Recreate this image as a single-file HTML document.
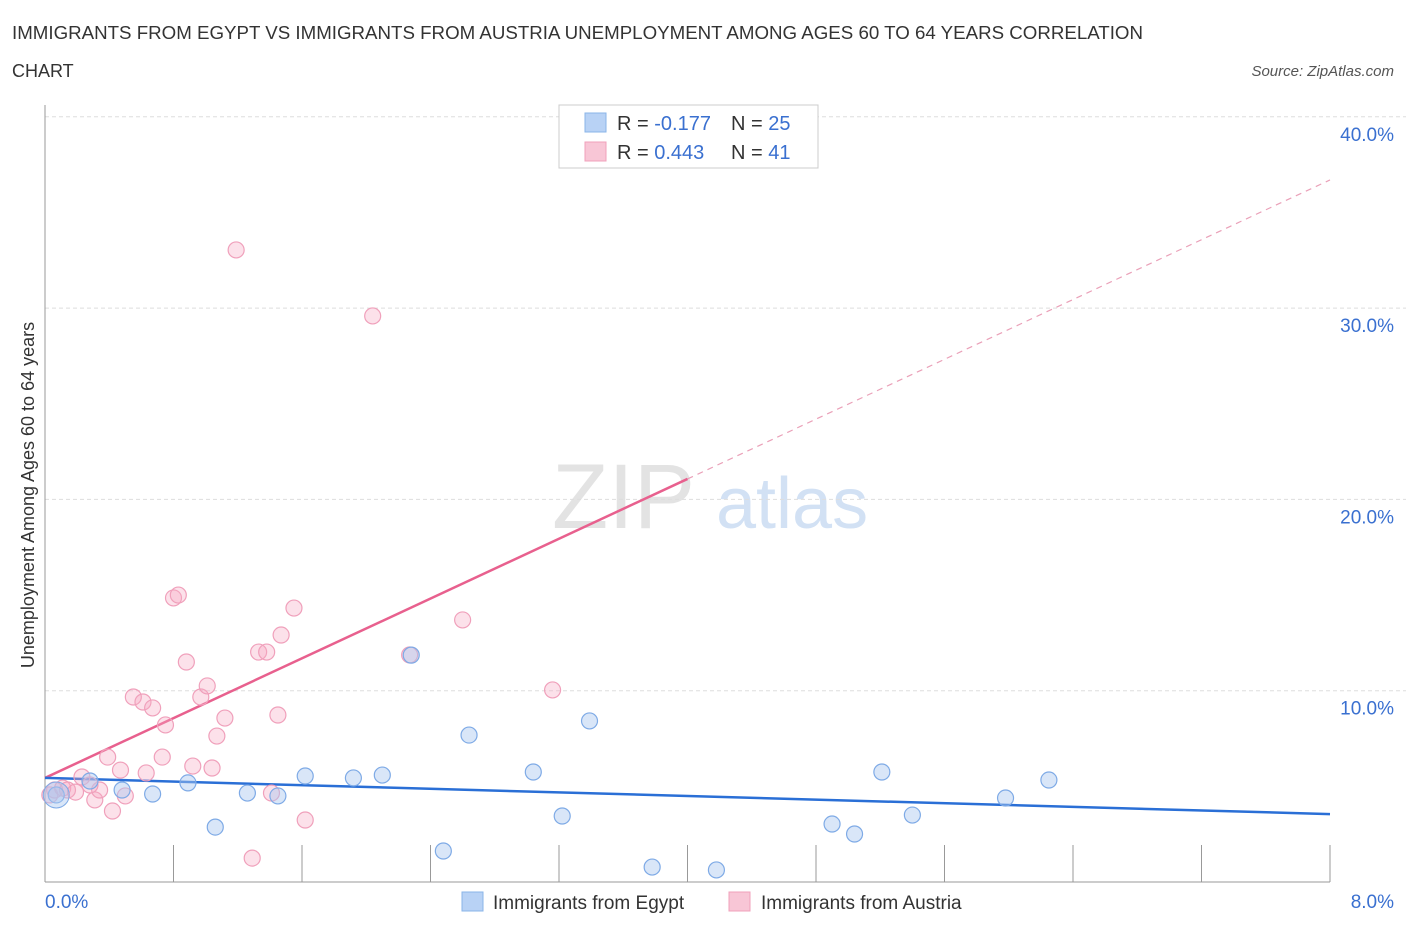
<!DOCTYPE html>
<html><head><meta charset="utf-8"><style>
body{margin:0;background:#fff;font-family:"Liberation Sans",sans-serif;}
svg text{font-family:"Liberation Sans",sans-serif;}
</style></head><body>
<svg id="chart" width="1406" height="930" xmlns="http://www.w3.org/2000/svg">
<text x="12" y="39" font-size="18" fill="#333" textLength="1131" lengthAdjust="spacingAndGlyphs">IMMIGRANTS FROM EGYPT VS IMMIGRANTS FROM AUSTRIA UNEMPLOYMENT AMONG AGES 60 TO 64 YEARS CORRELATION</text>
<text x="12" y="77" font-size="18" fill="#333">CHART</text>
<text x="1394" y="76" font-size="15" fill="#555" text-anchor="end" font-style="italic">Source: ZipAtlas.com</text>
<text x="552" y="528" font-size="92" fill="#ddd" font-family="Liberation Serif" opacity="0.8">ZIP</text>
<text x="716" y="528" font-size="72" fill="#c8daf2" opacity="0.8">atlas</text>
<text transform="translate(34,495) rotate(-90)" font-size="18" fill="#333" text-anchor="middle">Unemployment Among Ages 60 to 64 years</text>
<g id="grid"></g><g id="lines"></g><g id="pts"></g>
<g>
<rect x="559" y="105" width="259" height="63" fill="#fff" stroke="#ccc"/>
<rect x="585" y="113" width="21" height="19" fill="#b8d2f5" stroke="#8ab4e8"/>
<rect x="585" y="142" width="21" height="19" fill="#f8c6d6" stroke="#f0a0bb"/>
<text x="617" y="130" font-size="20" fill="#333">R = <tspan fill="#3a70d0">-0.177</tspan></text>
<text x="731" y="130" font-size="20" fill="#333">N = <tspan fill="#3a70d0">25</tspan></text>
<text x="617" y="159" font-size="20" fill="#333">R = <tspan fill="#3a70d0"> 0.443</tspan></text>
<text x="731" y="159" font-size="20" fill="#333">N = <tspan fill="#3a70d0"> 41</tspan></text>
</g>
<g>
<rect x="462" y="892" width="21" height="19" fill="#b8d2f5" stroke="#8ab4e8"/>
<text x="493" y="909" font-size="19" fill="#333">Immigrants from Egypt</text>
<rect x="729" y="892" width="21" height="19" fill="#f8c6d6" stroke="#f0a0bb"/>
<text x="761" y="909" font-size="19" fill="#333">Immigrants from Austria</text>
</g>
</svg>
<script>
const yTicks=[10,20,30,40];
const xTickLabels=["0.0%","8.0%"];
const egyptX=[0.07,0.28,0.48,0.67,0.89,1.06,1.26,1.45,1.62,1.92,2.10,2.28,2.48,2.64,3.04,3.22,3.39,3.78,4.18,4.90,5.04,5.21,5.40,5.98,6.25];
const egyptY=[4.55,5.28,4.81,4.60,5.18,2.87,4.65,4.50,5.54,5.44,5.59,11.86,1.62,7.68,5.75,3.45,8.42,0.78,0.63,3.03,2.51,5.75,3.50,4.39,5.33];
const austriaX=[0.03,0.06,0.11,0.14,0.19,0.23,0.31,0.34,0.39,0.42,0.47,0.50,0.55,0.61,0.63,0.67,0.73,0.75,0.80,0.83,0.88,0.92,0.97,1.01,1.04,1.07,1.12,1.19,1.29,1.33,1.38,1.41,1.45,1.47,1.55,1.62,2.04,2.27,2.60,3.16,0.28];
const austriaY=[4.55,4.81,4.91,4.81,4.70,5.49,4.29,4.81,6.53,3.71,5.85,4.50,9.67,9.41,5.70,9.10,6.53,8.21,14.85,15.0,11.5,6.06,9.67,10.25,5.96,7.63,8.57,33.04,1.25,12.02,12.02,4.65,8.73,12.91,14.32,3.24,29.59,11.87,13.70,10.04,5.07];
const egyptTrend=[5.44,3.55];
const austriaTrend=[5.44,36.7];
const NS="http://www.w3.org/2000/svg";
const X=v=>45+v/8*1285, Y=v=>882-v*19.13;
function mk(t,a,p){const e=document.createElementNS(NS,t);for(const k in a)e.setAttribute(k,a[k]);p.appendChild(e);return e;}
const g=document.getElementById('grid');
yTicks.forEach(t=>{
 const l=mk('line',{x1:45,x2:1406,y1:Y(t),y2:Y(t),stroke:'#ddd','stroke-dasharray':'4,3'},g);
 
 
 const tx=mk('text',{x:1394,y:Y(t)+24,'font-size':19,fill:'#3a70d0','text-anchor':'end'},g);
 tx.textContent=t.toFixed(1)+'%';
 
 
});
const ax=mk('line',{x1:45,x2:45,y1:105,y2:882,stroke:'#999'},g);


const bx=mk('line',{x1:45,x2:1330,y1:882,y2:882,stroke:'#999'},g);


for(let i=1;i<=10;i++){const tk=mk('line',{x1:X(i*0.8),x2:X(i*0.8),y1:845,y2:882,stroke:'#999'},g);
 
 }
[[0,45,'start'],[1,1394,'end']].forEach(([i,x,a])=>{const t=mk('text',{x:x,y:908,'font-size':19,fill:'#3a70d0','text-anchor':a},g);t.textContent=xTickLabels[i];
 
 });
const P=document.getElementById('pts');
function pts(xs,ys,fill,stroke,name){xs.forEach((x,i)=>{const c=mk('circle',{cx:X(x),cy:Y(ys[i]),r:8,fill:fill,stroke:stroke,'stroke-width':1.2},P);
 
 });}
pts(austriaX,austriaY,'rgba(245,170,195,0.35)','#f0a0bb','austria-point');
pts(egyptX,egyptY,'rgba(170,200,240,0.45)','#7eaae6','egypt-point');
const big=mk('circle',{cx:X(egyptX[0]),cy:Y(egyptY[0]),r:13,fill:'rgba(170,200,240,0.45)',stroke:'#7eaae6'},P);


const L=document.getElementById('lines');
const ya=v=>austriaTrend[0]+(austriaTrend[1]-austriaTrend[0])*v/8;
const l1=mk('line',{x1:X(0),y1:Y(ya(0)),x2:X(4),y2:Y(ya(4)),stroke:'#e8608e','stroke-width':2.5},L);


const l2=mk('line',{x1:X(4),y1:Y(ya(4)),x2:X(8),y2:Y(ya(8)),stroke:'#eaa0b8','stroke-width':1.2,'stroke-dasharray':'6,5'},L);


const l3=mk('line',{x1:X(0),y1:Y(egyptTrend[0]),x2:X(8),y2:Y(egyptTrend[1]),stroke:'#2a6fd6','stroke-width':2.5},L);


</script>
</body></html>
